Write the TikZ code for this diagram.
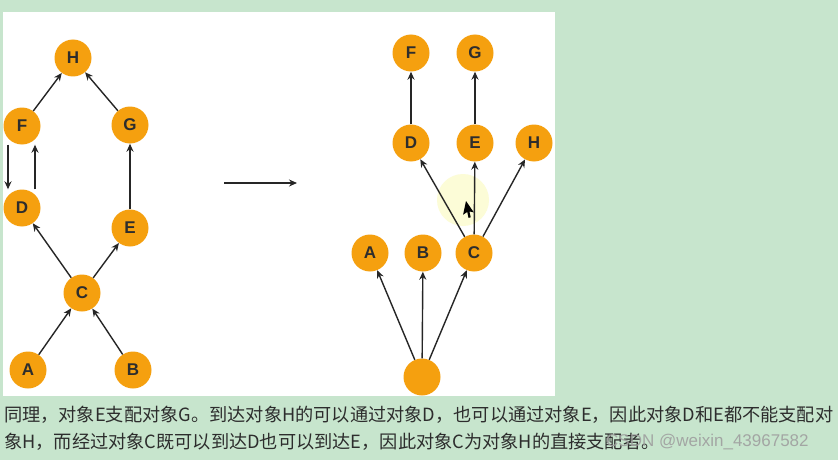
\documentclass[tikz,border=0pt]{standalone}
\usepackage{fontspec}
\setmainfont{Liberation Sans}
\newfontfamily\cjk{Noto Sans CJK SC}
\usetikzlibrary{arrows.meta}
\definecolor{bg}{RGB}{199,229,205}
\definecolor{nodeor}{RGB}{245,160,15}
\definecolor{txt}{RGB}{45,45,45}
\definecolor{hl}{RGB}{252,252,215}
\begin{document}
\begin{tikzpicture}[x=1pt,y=-1pt,
  vtx/.style={circle, fill=nodeor, minimum size=37pt, inner sep=0pt,
    font=\bfseries\fontsize{17}{17}\selectfont, text=txt},
  arr/.style={draw=black!85, line width=1.4pt, -{Stealth[length=8pt,width=7pt]}},
  para/.style={anchor=west, inner sep=0pt, text=txt, font=\cjk\fontsize{18.2}{18.2}\selectfont}]
\useasboundingbox (0,0) rectangle (838,460);
\fill[bg] (0,0) rectangle (838,460);
\fill[white] (3,12) rectangle (555,396);
% left graph
\node[vtx] (H) at (73,58) {H};
\node[vtx] (F) at (22,126) {F};
\node[vtx] (G) at (130,125) {G};
\node[vtx] (D) at (22,208) {D};
\node[vtx] (E) at (130,228) {E};
\node[vtx] (C) at (82,293) {C};
\node[vtx] (A) at (28,370) {A};
\node[vtx] (B) at (133,370) {B};
\draw[arr] (F) -- (H);
\draw[arr] (G) -- (H);
\draw[arr] ([xshift=-14pt]F.south) -- ([xshift=-14pt]D.north);
\draw[arr] ([xshift=13pt]D.north) -- ([xshift=13pt]F.south);
\draw[arr] (E) -- (G);
\draw[arr] (C) -- (D);
\draw[arr] (C) -- (E);
\draw[arr] (A) -- (C);
\draw[arr] (B) -- (C);
% transform arrow
\coordinate (t0) at (224,183);
\coordinate (t1) at (297,183);
\draw[arr] (t0) -- (t1);
% right graph
\fill[hl] (463,200) circle (26);
\node[vtx] (rF) at (411,53) {F};
\node[vtx] (rG) at (475,53) {G};
\node[vtx] (rD) at (411,143) {D};
\node[vtx] (rE) at (475,143) {E};
\node[vtx] (rH) at (534,143) {H};
\node[vtx] (rA) at (370,253) {A};
\node[vtx] (rB) at (423,253) {B};
\node[vtx] (rC) at (474,253) {C};
\node[vtx] (r0) at (422,377) {};
\draw[arr] (rD) -- (rF);
\draw[arr] (rE) -- (rG);
\draw[arr] (rC) -- (rD);
\draw[arr] (rC) -- (rE);
\draw[arr] (rC) -- (rH);
\draw[arr] (r0) -- (rA);
\draw[arr] (r0) -- (rB);
\draw[arr] (r0) -- (rC);
% cursor
\fill[black, shift={(466,201)}, rotate=-12] (0,0) -- (0,14) -- (3.5,10.5) -- (6,16) -- (8,15) -- (5.5,9.5) -- (10,9.5) -- cycle;
% text
\node[para] (p1) at (4,415) {同理，对象E支配对象G。到达对象H的可以通过对象D，也可以通过对象E，因此对象D和E都不能支配对};
\node[para] (p2) at (4,442) {象H，而经过对象C既可以到达D也可以到达E，因此对象C为对象H的直接支配者。};
\node[anchor=west, inner sep=0pt, text=gray!75, opacity=0.9, font=\fontsize{17}{17}\selectfont] (wm) at (606,442) {CSDN @weixin\_43967582};
\end{tikzpicture}
\end{document}
